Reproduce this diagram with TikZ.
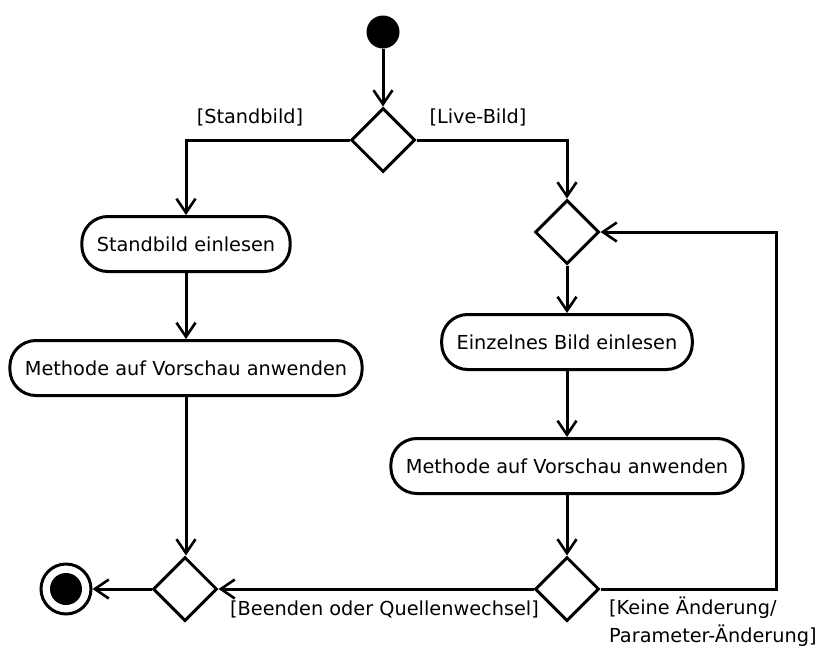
\documentclass[tikz,border=0pt]{standalone}
\usepackage{fontspec}
\setmainfont{DejaVu Sans}
\usetikzlibrary{arrows.meta,shapes.geometric}

\tikzset{
  action/.style={draw, rounded corners=26pt, minimum height=55pt, inner xsep=15pt, line width=3pt},
  decision/.style={draw, diamond, minimum width=64pt, minimum height=64pt, inner sep=0pt, line width=3pt},
  flow/.style={line width=3pt, -{Straight Barb[length=14pt,width=19pt,line width=2.6pt]}},
  guard/.style={inner sep=0pt, align=left},
}

\begin{document}
\begin{tikzpicture}[x=1pt, y=-1pt, font=\fontsize{19.3}{28}\selectfont]
			%%%%% START %%%%%
			\useasboundingbox (0, 0) rectangle (819, 651);
			
			\node[circle, fill, minimum size=33pt, inner sep=0pt] (start) at (383, 32) {};
			\node[decision] (split) at (383, 140) {};
			
			\node[action] (still) at (186, 244) {Standbild einlesen};
			\node[action] (methL) at (186, 368) {Methode auf Vorschau anwenden};
			
			\node[decision] (loop) at (567, 232) {};
			\node[action] (frame) at (567, 342) {Einzelnes Bild einlesen};
			\node[action] (methR) at (567, 466) {Methode auf Vorschau anwenden};
			\node[decision] (check) at (567, 589) {};
			
			\node[decision] (merge) at (185, 589) {};
			\node[circle, draw, line width=3pt, minimum size=50pt, inner sep=0pt] (stop) at (66, 589) {};
			\fill (stop.center) circle (16pt);
			\coordinate (back) at (776, 589);
			
			\node[guard] (gStill) at (250, 117) {[Standbild]};
			\node[guard] (gLive) at (478, 117) {[Live-Bild]};
			\node[guard, anchor=west] (gQuit) at (230, 609) {[Beenden oder Quellenwechsel]};
			\node[guard, anchor=north west] (gKeep) at (609, 597) {[Keine Änderung/\\Parameter-Änderung]};
			
			\draw[flow] (start) -- (split);
			\draw[flow] (split.west) -| (still.north);
			\draw[flow] (split.east) -| (loop.north);
			\draw[flow] (still) -- (methL);
			\draw[flow] (methL) -- (methL |- merge.north);
			\draw[flow] (loop) -- (frame);
			\draw[flow] (frame) -- (methR);
			\draw[flow] (methR) -- (check);
			\draw[flow] (check.east) -- (back) |- (loop.east);
			\draw[flow] (check.west) -- (merge.east);
			\draw[flow] (merge.west) -- (stop);
			
			%%%%% END %%%%%
\end{tikzpicture}
\end{document}
